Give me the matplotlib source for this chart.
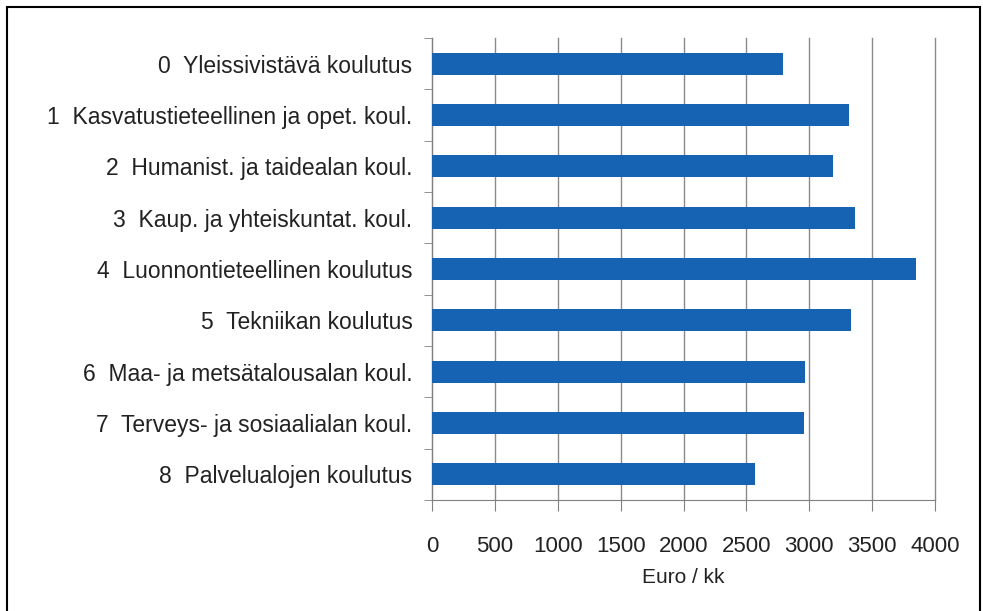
import numpy as np
import matplotlib.pyplot as plt
from matplotlib.patches import Rectangle

# koulutusala ja keskiansio (euro / kk)
labels = ['0  Yleissivistävä koulutus',
          '1  Kasvatustieteellinen ja opet. koul.',
          '2  Humanist. ja taidealan koul.',
          '3  Kaup. ja yhteiskuntat. koul.',
          '4  Luonnontieteellinen koulutus',
          '5  Tekniikan koulutus',
          '6  Maa- ja metsätalousalan koul.',
          '7  Terveys- ja sosiaalialan koul.',
          '8  Palvelualojen koulutus']
values = [2790, 3320, 3190, 3365, 3845, 3330, 2970, 2955, 2570]
xticks = [0, 500, 1000, 1500, 2000, 2500, 3000, 3500, 4000]

plt.rcParams['font.family'] = ['Liberation Sans', 'DejaVu Sans']

W, H = 983, 611
fig = plt.figure(figsize=(W / 100, H / 100), dpi=100)
ax = fig.add_axes([432 / W, 1 - 500 / H, (935 - 432) / W, (500 - 38) / H])

y = np.arange(len(labels))
ax.barh(y, values, height=0.43, color='#1763b3', zorder=3)

ax.set_xlim(0, 4000)
ax.set_ylim(len(labels) - 0.5, -0.5)
ax.set_xticks(xticks)
ax.set_xticklabels([str(t) for t in xticks], fontsize=16, color='#222222')
ax.set_yticks(y)
ax.set_yticklabels(labels, fontsize=16.5, color='#222222')
ax.set_yticks(np.arange(-0.5, len(labels)), minor=True)
ax.tick_params(axis='y', which='major', length=0, pad=14)
ax.tick_params(axis='y', which='minor', length=6, color='#808080', direction='out')
ax.tick_params(axis='x', length=8, color='#808080', pad=18)
ax.set_xlabel('Euro / kk', fontsize=15, labelpad=8, color='#222222')

ax.grid(axis='x', color='#8a8a8a', linewidth=1, zorder=0)
for g in ax.xaxis.get_gridlines():
    g.set_clip_on(False)
for s in ['top', 'right']:
    ax.spines[s].set_visible(False)
for s in ['left', 'bottom']:
    ax.spines[s].set_color('#808080')

# kehys koko kuvan ympärillä
fig.patches.append(Rectangle((7 / W, -0.01), (980 - 7) / W, 1 - 7 / H + 0.01,
                             transform=fig.transFigure, fill=False,
                             edgecolor='black', linewidth=1.5))

fig.savefig('out.png', dpi=100)
